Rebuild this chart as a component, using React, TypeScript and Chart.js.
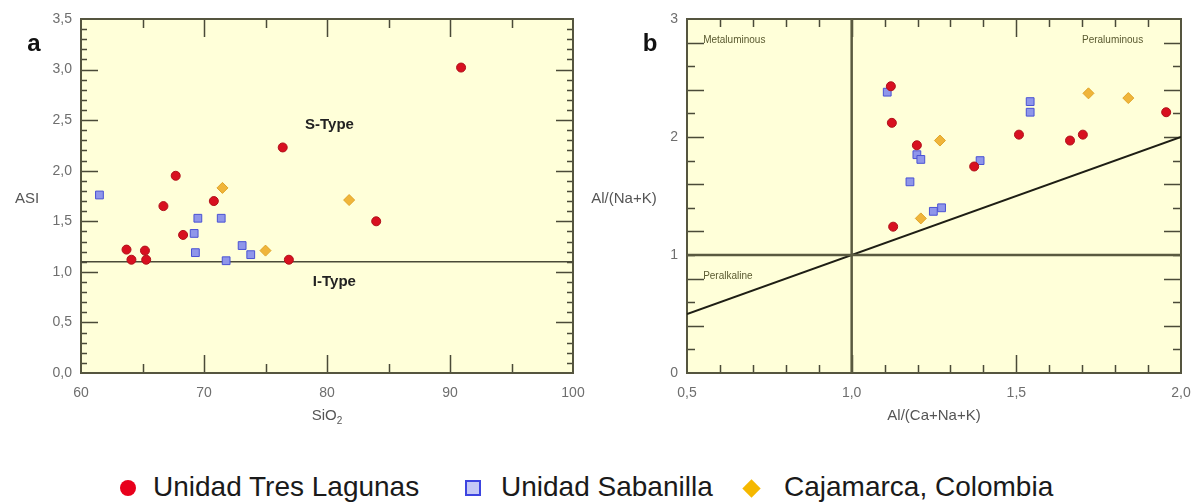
import React, { useEffect, useRef } from 'react';
import { Chart, registerables } from 'chart.js';

Chart.register(...registerables);

const FONT = '"Liberation Sans", Arial, Helvetica, sans-serif';

// ---------- Panel a : SiO2 vs ASI ----------
const tresLagunasA: [number, number][] = [
  [90.9, 3.02], [76.4, 2.23], [67.7, 1.95], [66.7, 1.65], [70.8, 1.70], [84.0, 1.50],
  [68.3, 1.365], [63.7, 1.22], [64.1, 1.12], [65.2, 1.21], [65.3, 1.12], [76.9, 1.12],
];
const sabanillaA: [number, number][] = [
  [61.5, 1.76], [69.5, 1.53], [71.4, 1.53], [69.2, 1.38], [69.3, 1.19], [71.8, 1.11],
  [73.1, 1.26], [73.8, 1.17],
];
const cajamarcaA: [number, number][] = [[71.5, 1.83], [81.8, 1.71], [75.0, 1.21]];
const boundaryA: [number, number][] = [[60, 1.1], [100, 1.1]];
const xTicksA = [60, 70, 80, 90, 100];
const yTicksA = [0, 0.5, 1, 1.5, 2, 2.5, 3, 3.5];

// ---------- Panel b : Al/(Ca+Na+K) vs Al/(Na+K) ----------
const tresLagunasB: [number, number][] = [
  [1.119, 2.43], [1.122, 2.12], [1.198, 1.93], [1.372, 1.75], [1.508, 2.02],
  [1.663, 1.97], [1.702, 2.02], [1.955, 2.21], [1.126, 1.24],
];
const sabanillaB: [number, number][] = [
  [1.108, 2.38], [1.542, 2.30], [1.542, 2.21], [1.198, 1.85], [1.21, 1.81],
  [1.39, 1.80], [1.177, 1.62], [1.248, 1.37], [1.273, 1.40],
];
const cajamarcaB: [number, number][] = [[1.719, 2.37], [1.84, 2.33], [1.268, 1.97], [1.21, 1.31]];
const diagonalB: [number, number][] = [[0.5, 0.5], [2, 2]];
const hLineB: [number, number][] = [[0.5, 1], [2, 1]];
const vLineB: [number, number][] = [[1, 0], [1, 3]];
const xTicksB = [0.5, 1, 1.5, 2];
const yTicksB = [0, 1, 2, 3];

const legendLabels = ['Unidad Tres Lagunas', 'Unidad Sabanilla', 'Cajamarca, Colombia'];

const RED = '#d81020';
const BLUE_FILL = '#8f96ea';
const BLUE_EDGE = '#4a52d4';
const ORANGE = '#f0b53a';

const pts = (arr: [number, number][]) => arr.map(([x, y]) => ({ x, y }));

const commaFmt = (v: number) => v.toFixed(1).replace('.', ',');

type TickSpec = { min: number; step: number; n: number; majorEvery: number; minorLen: number; majorLen: number };
type Note = { text: string; x: number; y: number; font: string; color: string; align: CanvasTextAlign };
type DecorCfg = {
  xTicks: TickSpec;
  yTicks: TickSpec;
  notes: Note[];
  letter: string;
  letterDx: number;
  yTitle: string;
  yTitleDx: number;
  xTitle: string;
  xSub?: string;
};

function decorPlugin(cfg: DecorCfg) {
  return {
    id: 'decor',
    beforeDraw(chart: any) {
      const { ctx, chartArea: a } = chart;
      ctx.save();
      ctx.fillStyle = '#ffffd9';
      ctx.fillRect(a.left, a.top, a.right - a.left, a.bottom - a.top);
      ctx.restore();
    },
    beforeDatasetsDraw(chart: any) {
      const { ctx, chartArea: a, scales } = chart;
      ctx.save();
      ctx.strokeStyle = '#4a4a38';
      ctx.lineWidth = 1.5;
      const xs = cfg.xTicks;
      for (let i = 1; i < xs.n; i++) {
        const v = xs.min + i * xs.step;
        const px = Math.round(scales.x.getPixelForValue(v)) + 0.5;
        const len = i % xs.majorEvery === 0 ? xs.majorLen : xs.minorLen;
        ctx.beginPath();
        ctx.moveTo(px, a.bottom);
        ctx.lineTo(px, a.bottom - len);
        ctx.moveTo(px, a.top);
        ctx.lineTo(px, a.top + len);
        ctx.stroke();
      }
      const ys = cfg.yTicks;
      for (let i = 1; i < ys.n; i++) {
        const v = ys.min + i * ys.step;
        const py = Math.round(scales.y.getPixelForValue(v)) + 0.5;
        const len = i % ys.majorEvery === 0 ? ys.majorLen : ys.minorLen;
        ctx.beginPath();
        ctx.moveTo(a.left, py);
        ctx.lineTo(a.left + len, py);
        ctx.moveTo(a.right, py);
        ctx.lineTo(a.right - len, py);
        ctx.stroke();
      }
      ctx.strokeStyle = '#55553f';
      ctx.lineWidth = 2;
      ctx.strokeRect(a.left, a.top, a.right - a.left, a.bottom - a.top);
      ctx.restore();
    },
    afterDatasetsDraw(chart: any) {
      const { ctx, scales } = chart;
      ctx.save();
      ctx.textBaseline = 'middle';
      for (const n of cfg.notes) {
        ctx.font = n.font;
        ctx.fillStyle = n.color;
        ctx.textAlign = n.align;
        ctx.fillText(n.text, scales.x.getPixelForValue(n.x), scales.y.getPixelForValue(n.y));
      }
      ctx.restore();
    },
    afterDraw(chart: any) {
      const { ctx, chartArea: a } = chart;
      ctx.save();
      ctx.textBaseline = 'middle';
      ctx.font = `bold 24px ${FONT}`;
      ctx.fillStyle = '#111';
      ctx.textAlign = 'center';
      ctx.fillText(cfg.letter, a.left + cfg.letterDx, a.top + 25);
      ctx.font = `15px ${FONT}`;
      ctx.fillStyle = '#555';
      ctx.fillText(cfg.yTitle, a.left + cfg.yTitleDx, (a.top + a.bottom) / 2 + 3);
      const cx = (a.left + a.right) / 2;
      const ty = a.bottom + 43;
      ctx.font = `15px ${FONT}`;
      const w1 = ctx.measureText(cfg.xTitle).width;
      let w2 = 0;
      if (cfg.xSub) {
        ctx.font = `10px ${FONT}`;
        w2 = ctx.measureText(cfg.xSub).width;
      }
      const start = cx - (w1 + w2) / 2;
      ctx.textAlign = 'left';
      ctx.font = `15px ${FONT}`;
      ctx.fillText(cfg.xTitle, start, ty);
      if (cfg.xSub) {
        ctx.font = `10px ${FONT}`;
        ctx.fillText(cfg.xSub, start + w1, ty + 5);
      }
      ctx.restore();
    },
  };
}

function axis(
  min: number,
  max: number,
  ticks: number[],
  fmt: (v: number) => string,
  isX: boolean,
  size: number,
) {
  return {
    type: 'linear' as const,
    position: isX ? ('bottom' as const) : ('left' as const),
    min,
    max,
    afterBuildTicks: (s: any) => {
      s.ticks = ticks.map((v) => ({ value: v }));
    },
    afterFit: (s: any) => {
      if (isX) s.height = size;
      else s.width = size;
      s.paddingLeft = 0;
      s.paddingRight = 0;
      s.paddingTop = 0;
      s.paddingBottom = 0;
    },
    ticks: {
      callback: (v: any) => fmt(Number(v)),
      font: { family: FONT, size: 14 },
      color: '#6e6e6e',
      padding: isX ? 12 : 9,
      maxRotation: 0,
      autoSkip: false,
    },
    grid: { display: false, drawTicks: false },
    border: { display: false },
  };
}

function pointSets(red: [number, number][], blue: [number, number][], orange: [number, number][]) {
  return [
    {
      label: legendLabels[0],
      data: pts(red),
      pointStyle: 'circle',
      pointRadius: 4.5,
      backgroundColor: RED,
      borderColor: '#b0101a',
      borderWidth: 1,
      order: 1,
    },
    {
      label: legendLabels[1],
      data: pts(blue),
      pointStyle: 'rect',
      pointRadius: 5.5,
      backgroundColor: BLUE_FILL,
      borderColor: BLUE_EDGE,
      borderWidth: 1,
      order: 2,
    },
    {
      label: legendLabels[2],
      data: pts(orange),
      pointStyle: 'rectRot',
      pointRadius: 5.5,
      backgroundColor: ORANGE,
      borderColor: '#e0a428',
      borderWidth: 1,
      order: 0,
    },
  ];
}

function lineSet(data: [number, number][], color: string, width: number) {
  return {
    label: '',
    data: pts(data),
    showLine: true,
    pointRadius: 0,
    borderColor: color,
    borderWidth: width,
    order: 10,
  };
}

export default function App() {
  const refA = useRef<HTMLCanvasElement>(null);
  const refB = useRef<HTMLCanvasElement>(null);

  useEffect(() => {
    const common = {
      responsive: false,
      animation: false as const,
      events: [] as any[],
      plugins: { legend: { display: false }, tooltip: { enabled: false } },
    };

    const chartA = new Chart(refA.current!, {
      type: 'scatter',
      data: {
        datasets: [...pointSets(tresLagunasA, sabanillaA, cajamarcaA), lineSet(boundaryA, '#4a4a38', 1.5)] as any,
      },
      options: {
        ...common,
        layout: { padding: { top: 19, right: 12, left: 0, bottom: 0 } },
        scales: {
          x: axis(60, 100, xTicksA, (v) => String(v), true, 57),
          y: axis(0, 3.5, yTicksA, commaFmt, false, 81),
        },
      } as any,
      plugins: [
        decorPlugin({
          xTicks: { min: 60, step: 5, n: 8, majorEvery: 2, minorLen: 9, majorLen: 18 },
          yTicks: { min: 0, step: 0.1, n: 35, majorEvery: 5, minorLen: 6, majorLen: 17 },
          notes: [
            { text: 'S-Type', x: 80.2, y: 2.45, font: `bold 15px ${FONT}`, color: '#222', align: 'center' },
            { text: 'I-Type', x: 80.6, y: 0.9, font: `bold 15px ${FONT}`, color: '#222', align: 'center' },
          ],
          letter: 'a',
          letterDx: -47,
          yTitle: 'ASI',
          yTitleDx: -54,
          xTitle: 'SiO',
          xSub: '2',
        }) as any,
      ],
    });

    const chartB = new Chart(refB.current!, {
      type: 'scatter',
      data: {
        datasets: [
          ...pointSets(tresLagunasB, sabanillaB, cajamarcaB),
          lineSet(hLineB, '#5a5a40', 2.5),
          lineSet(vLineB, '#5a5a40', 2.5),
          lineSet(diagonalB, '#1e1e14', 2),
        ] as any,
      },
      options: {
        ...common,
        layout: { padding: { top: 19, right: 13, left: 0, bottom: 0 } },
        scales: {
          x: axis(0.5, 2, xTicksB, commaFmt, true, 57),
          y: axis(0, 3, yTicksB, (v) => String(v), false, 102),
        },
      } as any,
      plugins: [
        decorPlugin({
          xTicks: { min: 0.5, step: 0.1, n: 15, majorEvery: 5, minorLen: 8, majorLen: 18 },
          yTicks: { min: 0, step: 0.2, n: 15, majorEvery: 2, minorLen: 8, majorLen: 17 },
          notes: [
            { text: 'Metaluminous', x: 0.549, y: 2.82, font: `10px ${FONT}`, color: '#5a5a30', align: 'left' },
            { text: 'Peraluminous', x: 1.885, y: 2.82, font: `10px ${FONT}`, color: '#5a5a30', align: 'right' },
            { text: 'Peralkaline', x: 0.549, y: 0.82, font: `10px ${FONT}`, color: '#5a5a30', align: 'left' },
          ],
          letter: 'b',
          letterDx: -37,
          yTitle: 'Al/(Na+K)',
          yTitleDx: -63,
          xTitle: 'Al/(Ca+Na+K)',
        }) as any,
      ],
    });

    return () => {
      chartA.destroy();
      chartB.destroy();
    };
  }, []);

  const legendText: React.CSSProperties = {
    position: 'absolute',
    top: 470,
    height: 34,
    lineHeight: '34px',
    fontSize: 28,
    fontFamily: FONT,
    color: '#1a1a1a',
    whiteSpace: 'nowrap',
  };

  return (
    <div style={{ position: 'absolute', left: 0, top: 0, width: 1194, height: 502, background: '#fff', overflow: 'hidden' }}>
      <canvas ref={refA} width={585} height={430} style={{ position: 'absolute', left: 0, top: 0, width: 585, height: 430 }} />
      <canvas ref={refB} width={609} height={430} style={{ position: 'absolute', left: 585, top: 0, width: 609, height: 430 }} />
      <div style={{ position: 'absolute', left: 120, top: 480, width: 16, height: 16, borderRadius: '50%', background: '#e8001c' }} />
      <div style={{ ...legendText, left: 153 }}>{legendLabels[0]}</div>
      <div style={{ position: 'absolute', left: 465, top: 480, width: 12, height: 12, border: '2px solid #3c44e0', background: '#c4c8f6' }} />
      <div style={{ ...legendText, left: 501 }}>{legendLabels[1]}</div>
      <div style={{ position: 'absolute', left: 745, top: 482, width: 13, height: 13, background: '#f5b800', transform: 'rotate(45deg)' }} />
      <div style={{ ...legendText, left: 784 }}>{legendLabels[2]}</div>
    </div>
  );
}
